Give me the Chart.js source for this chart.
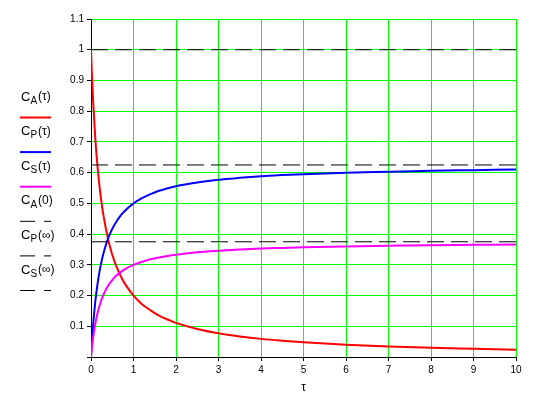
<!DOCTYPE html>
<html><head><meta charset="utf-8">
<script src="https://cdn.jsdelivr.net/npm/chart.js@4/dist/chart.umd.min.js"></script>
<style>html,body{margin:0;padding:0;background:#fff}#wrap{width:545px;height:395px;position:relative}</style>
</head><body><div id="wrap"><canvas id="c" width="545" height="395"></canvas></div>
<script>
const tau = [0, 0.02, 0.05, 0.1, 0.15, 0.2, 0.25, 0.3, 0.4, 0.5, 0.6, 0.7, 0.8, 1, 1.2, 1.4, 1.6, 1.8, 2, 2.5, 3, 3.5, 4, 4.5, 5, 6, 7, 8, 9, 10];
const cA = [1, 0.926, 0.833, 0.714, 0.625, 0.556, 0.5, 0.455, 0.385, 0.333, 0.294, 0.263, 0.238, 0.2, 0.172, 0.152, 0.135, 0.122, 0.111, 0.091, 0.077, 0.067, 0.059, 0.053, 0.048, 0.04, 0.034, 0.03, 0.027, 0.024];
const cP = [0, 0.046, 0.104, 0.179, 0.234, 0.278, 0.3125, 0.341, 0.385, 0.417, 0.441, 0.461, 0.476, 0.5, 0.517, 0.53, 0.541, 0.549, 0.556, 0.568, 0.577, 0.583, 0.588, 0.592, 0.595, 0.6, 0.603, 0.606, 0.608, 0.61];
const cS = [0, 0.028, 0.0625, 0.107, 0.141, 0.167, 0.1875, 0.205, 0.231, 0.25, 0.265, 0.276, 0.286, 0.3, 0.31, 0.318, 0.324, 0.329, 0.333, 0.341, 0.346, 0.35, 0.353, 0.355, 0.357, 0.36, 0.362, 0.364, 0.365, 0.366];
const cA0 = 1;
const cPinf = 0.625;
const cSinf = 0.375;
const xTicks = [0,1,2,3,4,5,6,7,8,9,10];
const yTicks = [0.1,0.2,0.3,0.4,0.5,0.6,0.7,0.8,0.9,1,1.1];

const pts = arr => tau.map((t,i)=>({x:t,y:arr[i]}));
const hline = v => [{x:0,y:v},{x:10,y:v}];

const legendItems = [
  {main:'C', sub:'A', arg:'(τ)', color:'#ff0000', dash:[]},
  {main:'C', sub:'P', arg:'(τ)', color:'#0000ff', dash:[]},
  {main:'C', sub:'S', arg:'(τ)', color:'#ff00ff', dash:[]},
  {main:'C', sub:'A', arg:'(0)', color:'#000000', dash:[15,9]},
  {main:'C', sub:'P', arg:'(∞)', color:'#000000', dash:[15,9]},
  {main:'C', sub:'S', arg:'(∞)', color:'#000000', dash:[15,9]}
];

const legendPlugin = {
  id:'sideLegend',
  afterDraw(chart){
    const ctx = chart.ctx;
    ctx.save();
    legendItems.forEach((it,i)=>{
      const ty = 97 + i*34.6;
      const ly = 117.5 + i*34.6;
      ctx.fillStyle = '#000';
      ctx.textBaseline = 'middle';
      ctx.font = '13px "Liberation Sans"';
      ctx.fillText(it.main, 21, ty);
      const w1 = ctx.measureText(it.main).width;
      ctx.font = '10px "Liberation Sans"';
      ctx.fillText(it.sub, 21 + w1, ty + 4);
      const w2 = ctx.measureText(it.sub).width;
      ctx.font = '12px "Liberation Sans"';
      ctx.fillText(it.arg, 22 + w1 + w2, ty);
      ctx.strokeStyle = it.color;
      ctx.lineWidth = it.dash.length ? 1 : 2;
      ctx.setLineDash(it.dash);
      ctx.beginPath();
      ctx.moveTo(20, ly);
      ctx.lineTo(51, ly);
      ctx.stroke();
    });
    ctx.restore();
  }
};

new Chart(document.getElementById('c'), {
  type:'line',
  data:{datasets:[
    {data:hline(cA0), borderColor:'#000', borderWidth:1, borderDash:[17,7], pointRadius:0},
    {data:hline(cPinf), borderColor:'#000', borderWidth:1, borderDash:[17,7], pointRadius:0},
    {data:hline(cSinf), borderColor:'#000', borderWidth:1, borderDash:[17,7], pointRadius:0},
    {data:pts(cS), borderColor:'#ff00ff', borderWidth:2, pointRadius:0, cubicInterpolationMode:'monotone'},
    {data:pts(cP), borderColor:'#0000ff', borderWidth:2, pointRadius:0, cubicInterpolationMode:'monotone'},
    {data:pts(cA), borderColor:'#ff0000', borderWidth:2, pointRadius:0, cubicInterpolationMode:'monotone'}
  ]},
  options:{
    responsive:false, animation:false,
    layout:{padding:{top:19,right:29,left:0,bottom:0}},
    plugins:{legend:{display:false}, tooltip:{enabled:false}},
    scales:{
      x:{type:'linear', min:0, max:10,
        afterBuildTicks(s){ s.ticks = xTicks.map(v=>({value:v})); },
        afterFit(s){ s.height = 38; },
        grid:{color:'#00ff00', tickColor:'#000', tickLength:4, lineWidth:1},
        border:{color:'#000', width:1},
        ticks:{color:'#000', font:{family:'Liberation Sans', size:10}, padding:3, maxRotation:0},
        title:{display:true, text:'τ', color:'#000', font:{family:'Liberation Sans', size:12}, padding:{top:2,bottom:0}}
      },
      y:{min:0, max:1.1,
        afterBuildTicks(s){ s.ticks = [{value:0}].concat(yTicks.map(v=>({value:v}))); },
        afterFit(s){ s.width = 91; },
        grid:{color:'#00ff00', tickColor:'#000', tickLength:4, lineWidth:1},
        border:{color:'#000', width:1},
        ticks:{color:'#000', font:{family:'Liberation Sans', size:10}, padding:3,
          callback:(v)=> v===0 ? '' : String(Math.round(v*10)/10)}
      }
    }
  },
  plugins:[legendPlugin]
});
</script></body></html>
